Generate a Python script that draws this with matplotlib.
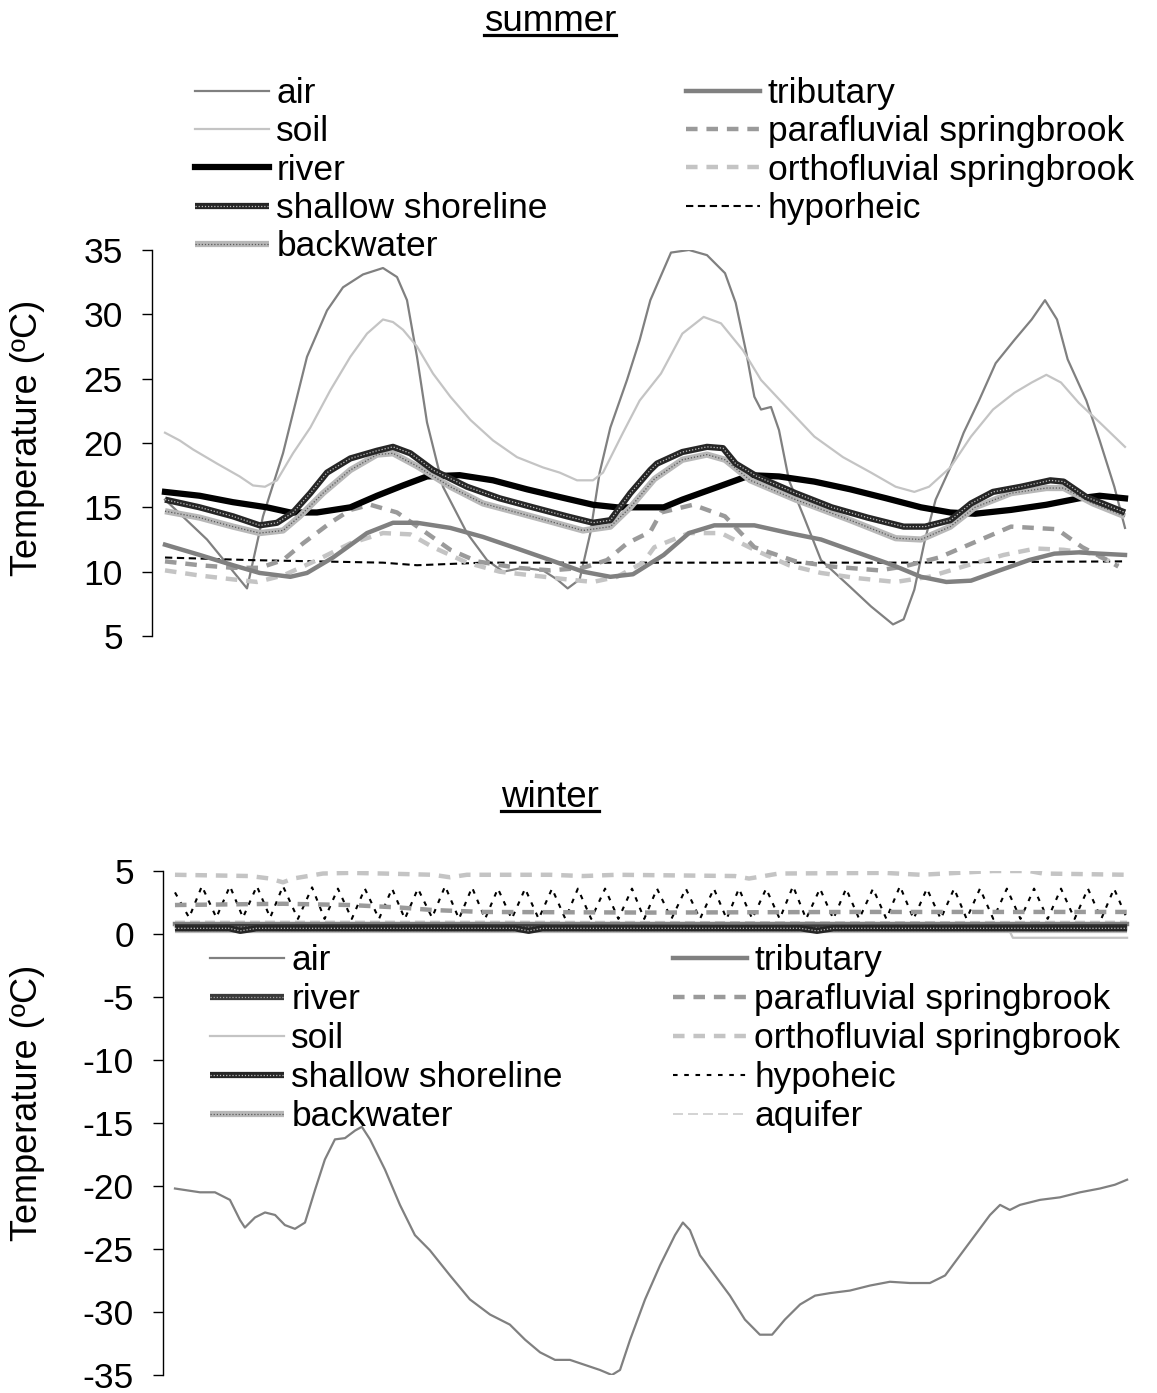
import numpy as np
import matplotlib.pyplot as plt
from matplotlib.lines import Line2D

plt.rcParams['font.family'] = ['Liberation Sans', 'DejaVu Sans']
plt.rcParams['axes.unicode_minus'] = False

# ---- summer, hours since start ----
air_t = [0, 3.15, 6.15, 7.35, 8.85, 10.65, 12.15, 13.35, 14.85, 16.35, 17.4, 18.15, 18.9, 19.65,
         20.85, 22.65, 24.15, 25.35, 26.85, 28.35, 29.4, 30.2, 31.1, 31.9, 32.6, 33.4, 34.65, 35.6,
         36.4, 37.95, 39.3, 40.65, 42.0, 42.8, 43.6, 44.2, 44.7, 45.45, 46.05, 46.8, 47.9, 49.2,
         51.4, 52.95, 54.6, 55.4, 56.2, 57.0, 57.8, 58.9, 59.9, 61.05, 62.3, 63.7, 65.0, 66.0,
         66.9, 67.7, 69.1, 70.1, 71.2, 72.0]
air_v = [15.6, 12.5, 8.7, 14.3, 19.2, 26.7, 30.3, 32.1, 33.1, 33.6, 32.9, 31.1, 26.7, 21.6,
         16.6, 13.0, 10.9, 10.0, 10.3, 10.1, 9.4, 8.7, 9.4, 13.0, 17.7, 21.2, 24.9, 28.0,
         31.1, 34.8, 35.0, 34.6, 33.2, 30.9, 27.0, 23.6, 22.6, 22.8, 21.0, 17.1, 14.3, 10.9,
         8.8, 7.3, 5.9, 6.3, 8.6, 12.5, 15.6, 18.1, 20.8, 23.3, 26.2, 28.0, 29.6, 31.1,
         29.6, 26.5, 23.3, 20.2, 16.6, 13.4]

soil_t = [0, 1.1, 2.1, 3.9, 5.6, 6.6, 7.5, 8.4, 9.6, 10.9, 12.4, 13.9, 15.15, 16.35, 17.1,
          17.85, 18.9, 20.1, 21.4, 22.9, 24.6, 26.4, 28.35, 29.6, 30.9, 32.1, 32.85, 34.35,
          35.6, 37.2, 38.8, 40.4, 41.7, 43.35, 44.7, 46.6, 48.7, 50.85, 52.95, 54.8, 56.2,
          57.3, 58.9, 60.45, 62.1, 63.7, 65.0, 66.1, 67.2, 68.55, 70.1, 72.0]
soil_v = [20.8, 20.2, 19.5, 18.4, 17.4, 16.7, 16.6, 17.1, 19.2, 21.2, 24.1, 26.7, 28.5, 29.6, 29.4,
          28.8, 27.5, 25.4, 23.6, 21.8, 20.2, 18.9, 18.1, 17.7, 17.1, 17.1, 17.7, 20.8,
          23.3, 25.4, 28.5, 29.8, 29.3, 27.2, 24.9, 22.8, 20.5, 18.9, 17.7, 16.6, 16.2,
          16.6, 18.1, 20.5, 22.6, 23.9, 24.7, 25.3, 24.7, 23.1, 21.6, 19.7]

river_t = [0, 2.6, 5.1, 7.65, 9.4, 11.4, 13.9, 15.9, 17.85, 19.65, 22.1, 24.6, 27.15, 29.6, 32.1,
           33.9, 35.3, 37.4, 38.8, 41.5, 43.9, 46.05, 48.7, 51.4, 54.1, 56.7, 58.9, 60.75,
           63.45, 66.1, 68.55, 70.1, 72.0]
river_v = [16.2, 15.9, 15.4, 15.0, 14.6, 14.6, 15.0, 15.9, 16.7, 17.4, 17.5, 17.1, 16.4, 15.8, 15.2,
           15.0, 15.0, 15.0, 15.6, 16.6, 17.5, 17.4, 17.0, 16.4, 15.7, 15.0, 14.6, 14.5,
           14.8, 15.2, 15.7, 15.9, 15.7]

shore_t = [0, 2.6, 5.1, 7.1, 8.4, 9.6, 10.9, 12.15, 13.9, 15.9, 17.1, 18.4, 20.1, 22.65, 25.1,
           27.6, 30.15, 32.1, 33.4, 34.9, 36.4, 36.9, 38.8, 40.65, 41.85, 42.8, 44.4, 47.3,
           50.0, 52.7, 55.4, 57.0, 58.9, 60.45, 62.1, 64.2, 66.4, 67.4, 69.1, 72.0]
shore_v = [15.6, 15.0, 14.3, 13.6, 13.8, 14.6, 16.1, 17.7, 18.8, 19.4, 19.7, 19.2, 17.9, 16.6, 15.7,
           15.0, 14.3, 13.8, 14.0, 16.1, 17.9, 18.4, 19.3, 19.7, 19.6, 18.4, 17.4, 16.1,
           15.0, 14.2, 13.5, 13.5, 14.0, 15.3, 16.2, 16.6, 17.1, 17.0, 15.8, 14.6]

back_t = [0, 2.6, 5.1, 7.1, 8.85, 10.1, 11.85, 13.9, 15.9, 17.1, 18.9, 21.4, 23.85, 26.4, 28.9,
          31.35, 33.4, 34.9, 36.7, 38.8, 40.65, 42.0, 43.9, 47.3, 51.4, 54.8, 56.7, 58.9,
          60.75, 63.45, 66.1, 67.4, 69.6, 72.0]
back_v = [14.7, 14.2, 13.5, 13.0, 13.2, 14.3, 16.1, 17.9, 19.1, 19.2, 18.2, 16.6, 15.3, 14.6, 13.9,
          13.2, 13.5, 15.0, 17.2, 18.7, 19.1, 18.7, 17.1, 15.6, 14.0, 12.6, 12.5, 13.5,
          15.0, 16.1, 16.5, 16.5, 15.3, 14.3]

trib_t = [0, 2.6, 5.1, 7.1, 9.4, 10.65, 12.6, 15.15, 17.1, 18.9, 21.4, 23.85, 26.4, 28.9, 31.35,
          33.4, 35.1, 37.4, 39.3, 41.2, 44.2, 46.8, 49.2, 51.9, 54.6, 56.7, 58.6, 60.45,
          62.6, 64.8, 66.7, 68.55, 70.1, 72.0]
trib_v = [12.1, 11.3, 10.5, 9.9, 9.6, 9.9, 11.1, 13.0, 13.8, 13.8, 13.4, 12.7, 11.8, 10.9, 10.0,
          9.6, 9.8, 11.3, 13.0, 13.6, 13.6, 13.0, 12.5, 11.5, 10.5, 9.6, 9.2, 9.3,
          10.1, 10.9, 11.4, 11.5, 11.4, 11.3]

para_t = [0, 2.6, 5.1, 7.1, 8.85, 10.35, 12.4, 13.9, 15.4, 17.4, 19.35, 21.4, 23.4, 26.4, 28.9,
          31.35, 33.15, 34.65, 36.4, 37.2, 39.6, 42.0, 44.2, 47.3, 50.0, 53.55, 55.4, 58.05,
          60.75, 63.45, 66.9, 68.8, 70.65, 71.5]
para_v = [10.8, 10.5, 10.3, 10.3, 10.9, 12.2, 13.8, 14.8, 15.2, 14.6, 13.2, 11.7, 10.8, 10.3, 10.1,
          10.3, 10.9, 12.2, 13.1, 14.6, 15.2, 14.3, 11.9, 10.8, 10.4, 10.1, 10.4, 11.1,
          12.3, 13.5, 13.3, 11.9, 10.9, 10.4]

ortho_t = [0, 2.6, 5.1, 6.9, 8.85, 11.4, 13.9, 16.35, 18.4, 20.1, 22.65, 25.1, 27.6, 30.15, 32.1,
           33.9, 35.85, 36.7, 39.3, 41.7, 44.2, 46.8, 49.2, 51.9, 54.8, 57.3, 60.2, 62.9,
           65.3, 67.4, 69.6, 71.5]
ortho_v = [10.1, 9.7, 9.4, 9.2, 9.7, 10.9, 12.2, 13.0, 12.9, 11.9, 10.7, 10.0, 9.7, 9.4, 9.2,
           9.6, 10.7, 11.9, 13.0, 13.0, 11.7, 10.5, 9.9, 9.5, 9.2, 9.6, 10.5, 11.3,
           11.8, 11.7, 11.4, 10.5]

hypo_t = [0, 6.4, 16.35, 18.9, 23.85, 36.4, 54.6, 72.0]
hypo_v = [11.1, 10.9, 10.7, 10.5, 10.7, 10.7, 10.7, 10.8]

# ---- winter, days since start ----
airw_t = [0, 0.92, 1.47, 2.02, 2.39, 2.57, 2.94, 3.31, 3.68, 4.04, 4.41, 4.78, 5.15, 5.51, 5.88,
          6.25, 6.62, 6.87, 7.17, 7.72, 8.27, 8.82, 9.37, 10.11, 10.84, 11.58, 12.31, 12.87,
          13.42, 13.97, 14.52, 15.07, 15.62, 16.06, 16.36, 16.73, 17.28, 17.83, 18.38, 18.67,
          18.93, 19.30, 19.85, 20.40, 20.95, 21.50, 21.95, 22.42, 22.98, 23.53, 24.08, 24.81,
          25.55, 26.28, 27.02, 27.75, 28.31, 28.86, 29.41, 29.96, 30.33, 30.69, 31.06, 31.80,
          32.53, 33.27, 34.00, 34.55, 35.0]
airw_v = [-20.2, -20.5, -20.5, -21.1, -22.7, -23.3, -22.5, -22.1, -22.3, -23.1, -23.4, -22.9, -20.3,
          -17.9, -16.3, -16.2, -15.6, -15.3, -16.3, -18.7, -21.5, -23.9, -25.1, -27.1, -29.0,
          -30.2, -31.0, -32.2, -33.2, -33.8, -33.8, -34.2, -34.6, -35.0, -34.6, -32.2, -29.0,
          -26.3, -23.9, -22.9, -23.5, -25.5, -27.1, -28.7, -30.6, -31.8, -31.8, -30.6, -29.4,
          -28.7, -28.5, -28.3, -27.9, -27.6, -27.7, -27.7, -27.1, -25.5, -23.9, -22.3, -21.5,
          -21.9, -21.5, -21.1, -20.9, -20.5, -20.2, -19.9, -19.5]

riverw_t = [0, 10, 20, 35]
riverw_v = [0.55, 0.55, 0.5, 0.55]

soilw_t = [0, 15, 30.6, 30.8, 35]
soilw_v = [0.6, 0.6, 0.6, -0.3, -0.3]

shorew_t = [0, 2.0, 2.4, 3.0, 12.5, 13.0, 13.5, 23.0, 23.6, 24.2, 35]
shorew_v = [0.45, 0.45, 0.25, 0.45, 0.45, 0.25, 0.45, 0.45, 0.25, 0.45, 0.45]

backw_t = [0, 35]
backw_v = [0.35, 0.35]

tribw_t = [0, 35]
tribw_v = [0.8, 0.8]

paraw_t = [0, 3.97, 6.43, 8.27, 9.49, 11.33, 17.5, 25.0, 35.0]
paraw_v = [2.3, 2.4, 2.3, 2.1, 1.9, 1.75, 1.7, 1.75, 1.75]

orthow_t = [0, 2.76, 3.49, 3.97, 4.34, 5.44, 6.43, 7.65, 9.49, 10.11, 10.73, 13.79, 15.0, 16.25,
            20.58, 21.1, 22.2, 26.1, 27.42, 28.75, 30.07, 31.4, 31.9, 35.0]
orthow_v = [4.7, 4.6, 4.4, 4.1, 4.4, 4.8, 4.85, 4.8, 4.7, 4.5, 4.7, 4.7, 4.6, 4.7,
            4.6, 4.4, 4.8, 4.85, 4.7, 4.85, 5.0, 5.0, 4.8, 4.7]

hypow_t = [0.0, 0.52, 0.99, 1.52, 2.02, 2.5, 3.01, 3.5, 3.97, 4.52, 5.04, 5.5, 5.99, 6.5, 6.98,
           7.5, 7.98, 8.45, 8.93, 9.45, 9.93, 10.44, 10.92, 11.4, 11.87, 12.38, 12.87, 13.37,
           13.86, 14.35, 14.81, 15.3, 15.81, 16.3, 16.8, 17.25, 17.72, 18.25, 18.78, 19.3,
           19.81, 20.28, 20.73, 21.22, 21.73, 22.23, 22.72, 23.2, 23.71, 24.2, 24.67, 25.15,
           25.66, 26.15, 26.65, 27.15, 27.64, 28.15, 28.64, 29.1, 29.59, 30.08, 30.58, 31.08,
           31.58, 32.08, 32.57, 33.07, 33.56, 34.05, 34.52, 35.0]
hypow_v = [3.3, 1.3, 3.8, 1.3, 3.8, 1.3, 3.8, 1.3, 3.8, 1.2, 3.7, 1.2, 3.6, 1.2, 3.6,
           1.2, 3.6, 1.2, 3.6, 1.3, 3.8, 1.2, 3.7, 1.2, 3.6, 1.2, 3.6, 1.2,
           3.6, 1.2, 3.6, 1.2, 3.6, 1.2, 3.6, 1.2, 3.6, 1.2, 3.6, 1.2,
           3.6, 1.2, 3.6, 1.2, 3.6, 1.2, 3.8, 1.2, 3.6, 1.2, 3.6, 1.2,
           3.6, 1.2, 3.8, 1.2, 3.6, 1.2, 3.6, 1.2, 3.6, 1.2, 3.6, 1.2,
           3.6, 1.2, 3.6, 1.2, 3.6, 1.2, 3.6, 1.2]

aquw_t = [0, 12, 24, 35]
aquw_v = [1.0, 1.0, 0.95, 1.0]

W, H = 1157, 1393
fig = plt.figure(figsize=(W / 100, H / 100), dpi=100)
ax1 = fig.add_axes([152 / W, 1 - 636 / H, (1135 - 152) / W, 386 / H])
ax2 = fig.add_axes([163 / W, 18 / H, (1135 - 163) / W, 504 / H])


def patterned(ax, t, v, base, dots):
    # thick line with a fine stipple drawn on top
    a, = ax.plot(t, v, color=base, lw=4.5, solid_capstyle='butt')
    b, = ax.plot(t, v, color=dots, lw=0.9, dashes=(1, 1.5))
    return (a, b)


def style_axis(ax, ylim, ticks):
    ax.set_ylim(*ylim)
    ax.set_yticks(ticks)
    ax.set_xticks([])
    for s in ('top', 'right', 'bottom'):
        ax.spines[s].set_visible(False)
    ax.spines['left'].set_linewidth(1.0)
    ax.tick_params(axis='y', length=7, width=1, pad=14, labelsize=25.5)


# summer panel
h_air, = ax1.plot(air_t, air_v, color='#808080', lw=1.6)
h_soil, = ax1.plot(soil_t, soil_v, color='#c4c4c4', lw=1.6)
h_hypo, = ax1.plot(hypo_t, hypo_v, color='black', lw=1.5, dashes=(3.5, 2.2))
h_ortho, = ax1.plot(ortho_t, ortho_v, color='#c4c4c4', lw=3.2, dashes=(2.6, 2))
h_para, = ax1.plot(para_t, para_v, color='#9a9a9a', lw=3.2, dashes=(2.6, 2))
h_trib, = ax1.plot(trib_t, trib_v, color='#808080', lw=3.2)
h_river, = ax1.plot(river_t, river_v, color='black', lw=4.5)
h_back = patterned(ax1, back_t, back_v, '#b8b8b8', '#5a5a5a')
h_shore = patterned(ax1, shore_t, shore_v, '#262626', '#bdbdbd')
ax1.set_xlim(-0.975, 72.75)
style_axis(ax1, (5, 35), range(5, 40, 5))

fig.legend([h_air, h_soil, h_river, h_shore, h_back, h_trib, h_para, h_ortho, h_hypo],
           ['air', 'soil', 'river', 'shallow shoreline', 'backwater', 'tributary',
            'parafluvial springbrook', 'orthofluvial springbrook', 'hyporheic'],
           ncol=2, loc='upper left', bbox_to_anchor=(195 / W, 1 - 77 / H),
           bbox_transform=fig.transFigure, frameon=False, fontsize=25.5,
           borderpad=0, borderaxespad=0, handlelength=2.1, handletextpad=0.2,
           columnspacing=3.9, labelspacing=0.15)

# winter panel
w_air, = ax2.plot(airw_t, airw_v, color='#808080', lw=1.6)
w_aqu, = ax2.plot(aquw_t, aquw_v, color='#cccccc', lw=1.2, dashes=(6, 3))
w_hypo, = ax2.plot(hypow_t, hypow_v, color='black', lw=1.5, dashes=(2.2, 3.2))
w_ortho, = ax2.plot(orthow_t, orthow_v, color='#c4c4c4', lw=3.2, dashes=(2.6, 2))
w_para, = ax2.plot(paraw_t, paraw_v, color='#9a9a9a', lw=3.2, dashes=(2.6, 2))
w_trib, = ax2.plot(tribw_t, tribw_v, color='#808080', lw=3.2)
w_soil, = ax2.plot(soilw_t, soilw_v, color='#c4c4c4', lw=1.6)
w_back = patterned(ax2, backw_t, backw_v, '#b8b8b8', '#5a5a5a')
w_river = patterned(ax2, riverw_t, riverw_v, '#3a3a3a', '#a8a8a8')
w_shore = patterned(ax2, shorew_t, shorew_v, '#262626', '#bdbdbd')
ax2.set_xlim(-0.44, 35.29)
style_axis(ax2, (-35, 5), range(-35, 10, 5))

fig.legend([w_air, w_river, w_soil, w_shore, w_back, w_trib, w_para, w_ortho, w_hypo, w_aqu],
           ['air', 'river', 'soil', 'shallow shoreline', 'backwater', 'tributary',
            'parafluvial springbrook', 'orthofluvial springbrook', 'hypoheic', 'aquifer'],
           ncol=2, loc='upper left', bbox_to_anchor=(210 / W, 1 - 944 / H),
           bbox_transform=fig.transFigure, frameon=False, fontsize=25.5,
           borderpad=0, borderaxespad=0, handlelength=2.1, handletextpad=0.2,
           columnspacing=3.1, labelspacing=0.17)

# y labels
for yc in (438, 1103):
    fig.text(28 / W, 1 - yc / H, 'Temperature (ºC)', rotation=90, ha='center', va='center',
             fontsize=26)

# underlined panel titles
titles = []
for label, base in (('summer', 31), ('winter', 807)):
    titles.append((fig.text(550 / W, 1 - base / H, label, ha='center', va='baseline',
                            fontsize=26.5), base))
fig.canvas.draw()
rend = fig.canvas.get_renderer()
for txt, base in titles:
    bb = txt.get_window_extent(rend)
    y = 1 - (base + 4) / H
    fig.add_artist(Line2D([bb.x0 / W, bb.x1 / W], [y, y], color='black', lw=2.3,
                          transform=fig.transFigure))

fig.savefig('out.png', dpi=100)
